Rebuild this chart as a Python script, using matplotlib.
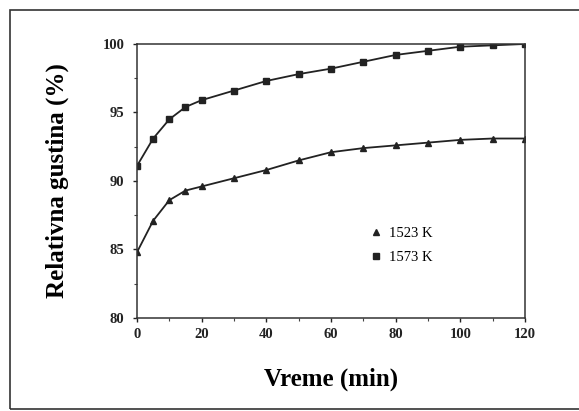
import matplotlib
matplotlib.use("Agg")
import matplotlib.pyplot as plt
from matplotlib.patches import Rectangle
from matplotlib.ticker import MultipleLocator

# data
time_min = [0, 5, 10, 15, 20, 30, 40, 50, 60, 70, 80, 90, 100, 110, 120]
dens_1523 = [84.8, 87.1, 88.6, 89.3, 89.6, 90.2, 90.8, 91.5, 92.1, 92.4, 92.6, 92.8, 93.0, 93.1, 93.1]
dens_1573 = [91.1, 93.1, 94.5, 95.4, 95.9, 96.6, 97.3, 97.8, 98.2, 98.7, 99.2, 99.5, 99.8, 99.9, 100.0]
x_ticks = [0, 20, 40, 60, 80, 100, 120]
y_ticks = [80, 85, 90, 95, 100]

plt.rcParams['font.family'] = ['Liberation Serif', 'DejaVu Serif']

fig = plt.figure(figsize=(5.79, 4.11), dpi=100)
ax = fig.add_axes([0.2366, 0.2263, 0.6701, 0.6667])

# outer box round the whole figure
fig.patches.append(Rectangle((10 / 579, 2 / 411), 1.0, 399 / 411, transform=fig.transFigure,
                             fill=False, edgecolor='#333333', lw=1.2, clip_on=False))

ax.plot(time_min, dens_1523, color='#222222', lw=1.3, marker='^', ms=5, label='1523 K')
ax.plot(time_min, dens_1573, color='#222222', lw=1.3, marker='s', ms=4.5, label='1573 K')

ax.set_xlim(0, 120)
ax.set_ylim(80, 100)
ax.set_xticks(x_ticks)
ax.set_yticks(y_ticks)
ax.xaxis.set_minor_locator(MultipleLocator(10))
ax.yaxis.set_minor_locator(MultipleLocator(2.5))
ax.tick_params(which='major', direction='out', length=3, width=1, pad=4,
               labelsize=10.5, colors='#222222')
ax.tick_params(axis='y', which='major', pad=6)
ax.tick_params(which='minor', direction='out', length=2, width=0.8, colors='#444444')
for lbl in ax.get_xticklabels() + ax.get_yticklabels():
    lbl.set_fontweight('bold')
for sp in ax.spines.values():
    sp.set_color('#333333')
    sp.set_linewidth(1.1)

ax.set_xlabel('Vreme (min)', fontsize=18, fontweight='bold', labelpad=19)
ax.set_ylabel('Relativna gustina (%)', fontsize=18, fontweight='bold', labelpad=24)

leg = ax.legend(loc='upper left', bbox_to_anchor=(0.583, 0.36), frameon=False,
                handlelength=0.8, handletextpad=0.5, borderpad=0, labelspacing=0.75,
                fontsize=10.5)
for h in leg.legend_handles:
    h.set_linestyle('none')

fig.savefig('out.png', dpi=100)
